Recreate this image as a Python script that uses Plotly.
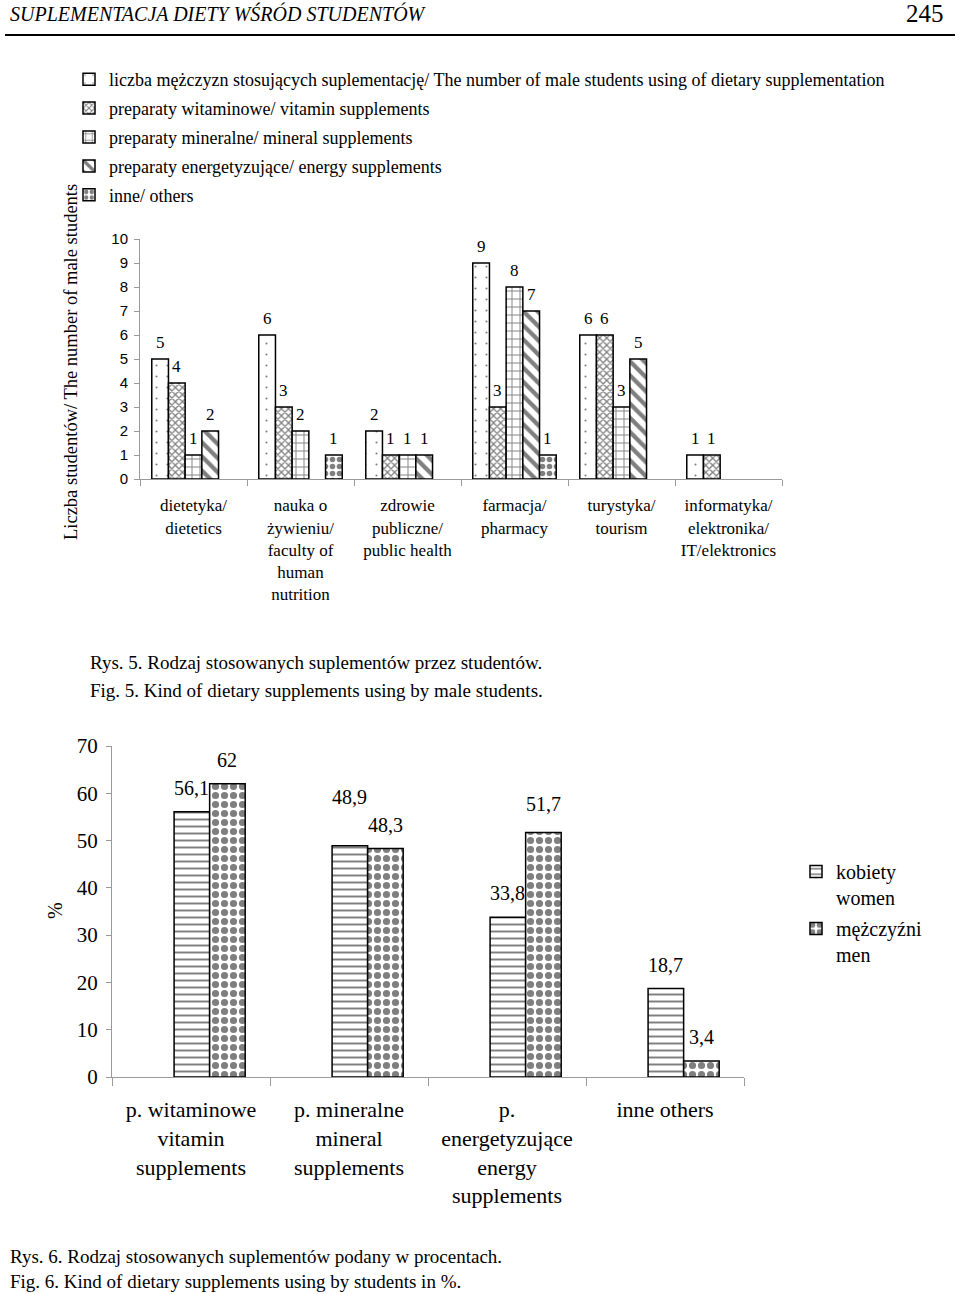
import plotly.graph_objects as go

# ---- Rys. 5: liczba mężczyzn stosujących suplementację wg kierunku ----
faculties = ["dietetyka", "nauka o żywieniu", "zdrowie publiczne",
             "farmacja", "turystyka", "informatyka"]
faculty_labels = [
    "dietetyka/<br>dietetics",
    "nauka o<br>żywieniu/<br>faculty of<br>human<br>nutrition",
    "zdrowie<br>publiczne/<br>public health",
    "farmacja/<br>pharmacy",
    "turystyka/<br>tourism",
    "informatyka/<br>elektronika/<br>IT/elektronics",
]
users = [5, 6, 2, 9, 6, 1]
vitamin = [4, 3, 1, 3, 6, 1]
mineral = [1, 2, 1, 8, 3, 0]
energy = [2, 0, 1, 7, 5, 0]
others = [0, 1, 0, 1, 0, 0]

series_names = [
    "liczba mężczyzn stosujących suplementację/ The number of male students using of dietary supplementation",
    "preparaty witaminowe/ vitamin supplements",
    "preparaty mineralne/ mineral supplements",
    "preparaty energetyzujące/ energy supplements",
    "inne/ others",
]

# ---- Rys. 6: rodzaj suplementów w procentach ----
kinds = ["witaminowe", "mineralne", "energetyzujące", "inne"]
kind_labels = [
    "p. witaminowe<br>vitamin<br>supplements",
    "p. mineralne<br>mineral<br>supplements",
    "p.<br>energetyzujące<br>energy<br>supplements",
    "inne others",
]
women = [56.1, 48.9, 33.8, 18.7]
men = [62, 48.3, 51.7, 3.4]

SERIF = "Liberation Serif"
SANS = "Liberation Sans"
W, H = 960, 1294

patterns1 = [
    dict(shape=".", size=11, solidity=0.03),
    dict(shape="x", size=5, solidity=0.45),
    dict(shape="+", size=8, solidity=0.22),
    dict(shape="\\", size=10, solidity=0.42),
    dict(shape=".", size=7, solidity=0.5),
]
patterns2 = [
    dict(shape="-", size=7, solidity=0.28),
    dict(shape=".", size=9, solidity=0.5),
]

fig = go.Figure()

series1 = [users, vitamin, mineral, energy, others]
for k, (vals, name, pat) in enumerate(zip(series1, series_names, patterns1)):
    fig.add_trace(go.Bar(
        x=faculties, y=[v if v else None for v in vals], name=name,
        xaxis="x", yaxis="y", legend="legend", legendgroup=f"g{k}",
        marker=dict(color="white", line=dict(color="black", width=1.5),
                    pattern=dict(fgcolor="black", bgcolor="white", fillmode="overlay", **pat)),
    ))

# second chart: wider gap, groups sit a bit right of the category centre
gap2, shift2 = 0.55, 0.118
series2 = [women, men]
n2 = len(series2)
w2 = (1 - gap2) / n2
for k, (vals, name, pat) in enumerate(zip(series2, ["kobiety<br>women", "mężczyźni<br>men"], patterns2)):
    fig.add_trace(go.Bar(
        x=kinds, y=vals, name=name, width=w2,
        offset=-(1 - gap2) / 2 + shift2 + w2 * k,
        xaxis="x2", yaxis="y2", legend="legend2", legendgroup=f"h{k}",
        marker=dict(color="white", line=dict(color="black", width=1.5),
                    pattern=dict(fgcolor="black", bgcolor="white", fillmode="overlay", **pat)),
    ))

annotations = []

# value labels above bars (grouped-bar geometry in category units)
gap1, n1 = 0.22, len(series1)
w1 = (1 - gap1) / n1
for k, vals in enumerate(series1):
    for i, v in enumerate(vals):
        if v:
            annotations.append(dict(
                x=i - (1 - gap1) / 2 + w1 * (k + 0.5), y=v, xref="x", yref="y",
                text=str(v), showarrow=False, xanchor="center", yanchor="middle", yshift=17,
                font=dict(family=SERIF, size=17, color="black")))

lift2 = [[0, 25, 0, 0], [0, 0, 5, 0]]
for k, vals in enumerate(series2):
    for i, v in enumerate(vals):
        annotations.append(dict(
            x=i - (1 - gap2) / 2 + shift2 + w2 * (k + 0.5), y=v, xref="x2", yref="y2",
            text=f"{v:g}".replace(".", ","), showarrow=False, xanchor="center",
            yanchor="middle", yshift=24 + lift2[k][i],
            font=dict(family=SERIF, size=20, color="black")))


def px(x, y):
    return x / W, 1 - y / H


# page texts
page_texts = [
    (8, 14, "<i>SUPLEMENTACJA DIETY WŚRÓD STUDENTÓW</i>", 20, "left"),
    (946, 14, "245", 25, "right"),
    (88, 662, "Rys. 5. Rodzaj stosowanych suplementów przez studentów.", 19, "left"),
    (88, 690, "Fig. 5. Kind of dietary supplements using by male students.", 19, "left"),
    (8, 1256, "Rys. 6. Rodzaj stosowanych suplementów podany w procentach.", 19, "left"),
    (8, 1281, "Fig. 6. Kind of dietary supplements using by students in %.", 19, "left"),
]
for x, y, t, s, anc in page_texts:
    ax, ay = px(x, y)
    annotations.append(dict(x=ax, y=ay, xref="paper", yref="paper", text=t,
                            showarrow=False, xanchor=anc, yanchor="middle",
                            font=dict(family=SERIF, size=s, color="black")))

ax, ay = px(71, 362)
annotations.append(dict(x=ax, y=ay, xref="paper", yref="paper", textangle=-90,
                        xanchor="center", yanchor="middle",
                        text="Liczba studentów/ The number of male students",
                        showarrow=False, font=dict(family=SERIF, size=18.5, color="black")))
ax, ay = px(55, 911)
annotations.append(dict(x=ax, y=ay, xref="paper", yref="paper", textangle=-90,
                        xanchor="center", yanchor="middle",
                        text="%", showarrow=False,
                        font=dict(family=SERIF, size=20, color="black")))

axis_common = dict(showline=True, linecolor="#9a9a9a", linewidth=1, showgrid=False,
                   zeroline=False, ticks="outside", tickcolor="#9a9a9a",
                   automargin=False)

fig.update_layout(
    width=W, height=H, autosize=False,
    margin=dict(l=0, r=0, t=0, b=0, pad=0, autoexpand=False),
    paper_bgcolor="white", plot_bgcolor="white",
    barmode="group",
    bargap=gap1,
    xaxis=dict(domain=[140 / W, 782 / W], anchor="y", type="category",
               tickmode="array", tickvals=faculties, ticktext=faculty_labels,
               tickson="boundaries", ticklen=6, ticklabelstandoff=11,
               tickfont=dict(family=SERIF, size=17, color="black"), **axis_common),
    yaxis=dict(domain=[1 - 479 / H, 1 - 239 / H], anchor="x", range=[0, 10], dtick=1,
               ticklen=5, ticklabelstandoff=3,
               tickfont=dict(family=SANS, size=15, color="black"), **axis_common),
    xaxis2=dict(domain=[112 / W, 744 / W], anchor="y2", type="category",
                tickmode="array", tickvals=kinds, ticktext=kind_labels,
                tickson="boundaries", ticklen=8, ticklabelstandoff=13,
                tickfont=dict(family=SERIF, size=22, color="black"), **axis_common),
    yaxis2=dict(domain=[1 - 1077 / H, 1 - 746 / H], anchor="x2", range=[0, 70], dtick=10,
                ticklen=5, ticklabelstandoff=4,
                tickfont=dict(family=SERIF, size=21, color="black"), **axis_common),
    legend=dict(x=69 / W, y=1 - 61 / H, xanchor="left", yanchor="top",
                font=dict(family=SERIF, size=18, color="black"),
                tracegroupgap=2.5, bgcolor="rgba(0,0,0,0)"),
    legend2=dict(x=796 / W, y=1 - 852 / H, xanchor="left", yanchor="top",
                 font=dict(family=SERIF, size=20, color="black"), valign="top",
                 tracegroupgap=2, bgcolor="rgba(0,0,0,0)"),
    annotations=annotations,
    shapes=[dict(type="line", xref="paper", yref="paper",
                 x0=5 / W, x1=955 / W, y0=1 - 35 / H, y1=1 - 35 / H,
                 line=dict(color="black", width=2))],
)

fig.write_html("out.html", config={"displayModeBar": False},
               post_script="document.body.style.margin='0';")
